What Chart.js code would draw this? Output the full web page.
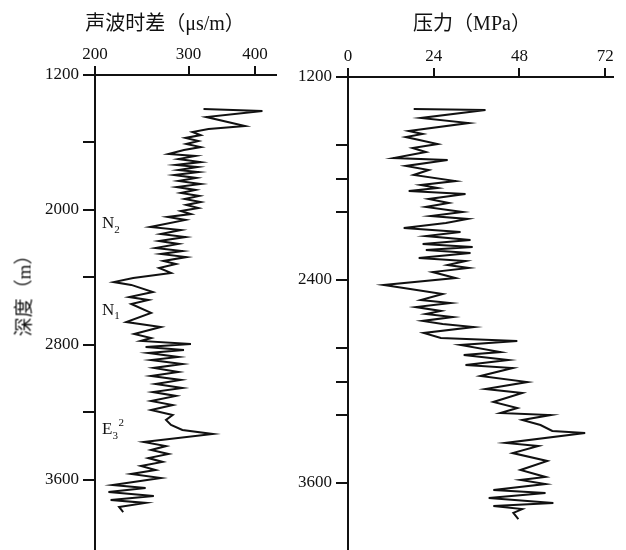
<!DOCTYPE html>
<html>
<head>
<meta charset="utf-8" />
<title>声波时差与压力随深度变化</title>
<script src="https://cdn.jsdelivr.net/npm/chart.js"></script>
<style>
  body { margin: 0; background: #fff; }
  .wrap { position: relative; width: 626px; height: 550px; overflow: hidden; }
  canvas { position: absolute; top: 0; }
  .title {
    position: absolute; top: 10px; height: 26px; line-height: 26px;
    font-size: 20px; color: #111; white-space: nowrap;
    transform: translateX(-50%);
    font-family: "Liberation Serif", "Noto Sans CJK SC", serif;
  }
  .ytitle {
    position: absolute; left: 22px; top: 291px; font-size: 19px; color: #111;
    white-space: nowrap; transform: translate(-50%, -50%) rotate(-90deg);
    font-family: "Liberation Serif", "Noto Sans CJK SC", serif;
  }
</style>
</head>
<body>
<div class="wrap">
  <canvas id="sonic" width="290" height="550" style="left:0"></canvas>
  <canvas id="pressure" width="336" height="550" style="left:290px"></canvas>
  <div class="title" style="left:165px">声波时差（μs/m）</div>
  <div class="title" style="left:472px">压力（MPa）</div>
  <div class="ytitle">深度（m）</div>
</div>
<script>
// 声波时差 (μs/m) vs depth (m)
const sonicDepth = [1401,1413,1449,1502,1520,1538,1556,1573,1591,1609,1627,1644,1668,1680,1698,1716,1733,1745,1763,1775,
  1793,1810,1828,1846,1864,1881,1899,1917,1935,1953,1970,1988,2006,2024,2041,2059,2101,2119,2142,2160,
  2184,2201,2225,2243,2261,2279,2302,2320,2344,2373,2403,2427,2444,2486,2516,2533,2557,2610,2664,2693,
  2735,2759,2776,2794,2812,2830,2847,2871,2889,2913,2936,2960,2984,3007,3031,3055,3079,3102,3132,3156,
  3185,3215,3244,3274,3304,3327,3375,3399,3422,3446,3470,3493,3517,3541,3564,3588,3630,3647,3671,3695,
  3719,3736,3760,3790];
const sonicValues = [320,413,324,383,327,305,316,296,313,297,316,294,275,309,287,316,284,312,287,313,
  282,310,287,316,285,309,290,314,295,316,297,313,290,303,274,296,254,290,266,296,
  264,287,260,292,266,297,269,284,264,278,236,217,234,257,232,252,234,255,229,266,
  237,255,244,303,249,294,252,287,255,292,258,287,255,290,260,292,257,284,255,280,
  255,280,272,278,292,333,247,272,255,275,252,268,244,260,234,266,216,249,212,258,
  214,249,222,226];

// 压力 (MPa) vs depth (m)
const pressureDepth = [1389,1395,1442,1472,1519,1537,1555,1596,1620,1643,1679,1691,1726,1750,1779,1815,1838,1856,1874,1892,
  1921,1945,1968,1998,2022,2039,2063,2093,2116,2140,2164,2187,2205,2223,2240,2270,2288,2311,2329,2353,
  2388,2429,2447,2483,2518,2536,2560,2583,2601,2619,2642,2660,2678,2713,2743,2760,2784,2826,2843,2873,
  2902,2920,2967,3003,3044,3068,3121,3157,3186,3198,3227,3257,3292,3304,3363,3381,3423,3470,3523,3564,
  3582,3606,3641,3659,3689,3718,3736,3754,3777,3813];
const pressureValues = [18.4,38.5,20.4,33.8,17.0,20.9,16.2,25.1,18.1,21.8,12.8,27.9,16.2,22.6,18.4,30.1,20.4,25.1,17.0,32.9,
  22.6,28.2,21.8,32.1,23.2,33.5,27.4,15.6,31.5,21.8,34.3,20.9,34.9,21.8,34.3,19.8,32.9,27.9,33.8,23.7,
  30.1,10.0,15.6,26.5,20.4,28.7,19.0,26.0,21.8,29.3,20.9,26.5,35.2,21.2,26.0,47.4,31.5,42.7,32.4,44.9,
  32.9,46.1,37.1,50.2,38.5,48.8,40.7,47.4,42.7,56.7,48.8,53.9,57.2,66.4,44.1,53.3,46.1,55.8,48.3,55.3,
  48.3,55.3,40.7,55.3,39.4,57.5,40.7,48.8,46.3,47.7];

// axis ticks
const sonicTicks = [200, 300, 400];
const pressureTicks = [0, 24, 48, 72];
const sonicDepthTicks = [1200, 1600, 2000, 2400, 2800, 3200, 3600];
const sonicDepthLabels = [1200, 2000, 2800, 3600];
const pressureDepthTicks = [1200, 1600, 1800, 2000, 2400, 2800, 3000, 3200, 3600];
const pressureDepthLabels = [1200, 2400, 3600];

// stratigraphic units next to the sonic log
const formations = [
  { base: 'N', sub: '2', sup: '', depth: 2083 },
  { base: 'N', sub: '1', sup: '', depth: 2593 },
  { base: 'E', sub: '3', sup: '2', depth: 3304 }
];

const INK = '#111';
const tickFont = { family: '"Liberation Serif", serif', size: 17 };

function toPoints(xs, ys) {
  return xs.map((v, i) => ({ x: v, y: ys[i] }));
}

const formationLabels = {
  id: 'formationLabels',
  afterDatasetsDraw(chart) {
    const ctx = chart.ctx;
    const y = chart.scales.y;
    const x0 = chart.chartArea.left + 7;
    ctx.save();
    ctx.fillStyle = INK;
    ctx.textBaseline = 'middle';
    formations.forEach(f => {
      const py = y.getPixelForValue(f.depth);
      ctx.font = '17px "Liberation Serif", serif';
      ctx.fillText(f.base, x0, py);
      const w = ctx.measureText(f.base).width;
      ctx.font = '11px "Liberation Serif", serif';
      ctx.fillText(f.sub, x0 + w, py + 6);
      if (f.sup) ctx.fillText(f.sup, x0 + w + 6, py - 7);
    });
    ctx.restore();
  }
};

function logChart(id, xs, ys, xScale, depthTicks, depthLabels, depthMax, leftW, topH, padRight) {
  return new Chart(document.getElementById(id), {
    type: 'scatter',
    data: {
      datasets: [{
        data: toPoints(xs, ys),
        showLine: true,
        borderColor: INK,
        borderWidth: 2,
        pointRadius: 0,
        tension: 0
      }]
    },
    options: {
      responsive: false,
      animation: false,
      devicePixelRatio: 1,
      layout: { padding: { left: 0, top: 0, right: padRight, bottom: 0 } },
      plugins: { legend: { display: false }, tooltip: { enabled: false } },
      scales: {
        x: Object.assign({
          position: 'top',
          border: { display: true, color: INK, width: 2 },
          grid: { drawOnChartArea: false, drawTicks: true, tickLength: 9, color: INK, lineWidth: 2 },
          ticks: { color: INK, font: tickFont, padding: 1, maxRotation: 0, callback: v => String(v) },
          afterFit(s) { s.height = topH; s.paddingLeft = 0; s.paddingRight = 0; }
        }, xScale),
        y: {
          type: 'linear',
          reverse: true,
          min: 1200,
          max: depthMax,
          border: { display: true, color: INK, width: 2 },
          grid: { drawOnChartArea: false, drawTicks: true, tickLength: 12, color: INK, lineWidth: 2 },
          ticks: {
            color: INK, font: tickFont, padding: 4,
            callback: v => depthLabels.includes(v) ? String(v) : ''
          },
          afterBuildTicks(s) { s.ticks = depthTicks.map(v => ({ value: v })); },
          afterFit(s) { s.width = leftW; s.paddingTop = 0; s.paddingBottom = 0; }
        }
      }
    },
    plugins: id === 'sonic' ? [formationLabels] : []
  });
}

logChart('sonic', sonicValues, sonicDepth, {
  type: 'logarithmic', min: 200, max: 438,
  afterBuildTicks(s) { s.ticks = sonicTicks.map(v => ({ value: v })); }
}, sonicDepthTicks, sonicDepthLabels, 4015, 95, 75, 14);

logChart('pressure', pressureValues, pressureDepth, {
  type: 'linear', min: 0, max: 74.2,
  afterBuildTicks(s) { s.ticks = pressureTicks.map(v => ({ value: v })); }
}, pressureDepthTicks, pressureDepthLabels, 3996, 58, 77, 13);
</script>
</body>
</html>
